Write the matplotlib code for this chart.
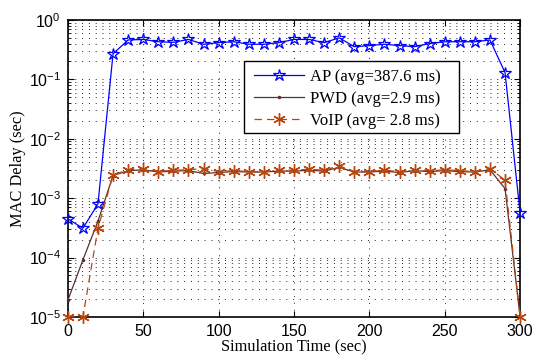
import numpy as np
import matplotlib
matplotlib.use("Agg")
import matplotlib.pyplot as plt
from matplotlib.ticker import LogLocator, NullFormatter, FixedLocator
from matplotlib.patches import Rectangle

time_s = list(range(0, 301, 10))

ap_delay = [4.5e-4, 3.1e-4, 8.0e-4, 0.27, 0.46, 0.47, 0.43, 0.42, 0.47, 0.39,
            0.415, 0.43, 0.39, 0.39, 0.415, 0.47, 0.47, 0.415, 0.50, 0.355,
            0.37, 0.39, 0.37, 0.355, 0.40, 0.43, 0.43, 0.43, 0.46, 0.13, 5.6e-4]

pwd_delay = [1.9e-5, 9.1e-5, 4.1e-4, 2.4e-3, 2.9e-3, 3.0e-3, 2.75e-3, 2.85e-3, 2.9e-3, 2.6e-3,
             2.7e-3, 2.8e-3, 2.75e-3, 2.75e-3, 2.85e-3, 2.85e-3, 2.95e-3, 2.85e-3, 3.3e-3, 2.75e-3,
             2.75e-3, 2.85e-3, 2.7e-3, 2.9e-3, 2.8e-3, 2.9e-3, 2.8e-3, 2.75e-3, 3.0e-3, 1.45e-3, 1.0e-5]

voip_delay = [1.0e-5, 1.0e-5, 3.1e-4, 2.45e-3, 3.0e-3, 3.15e-3, 2.8e-3, 2.95e-3, 3.0e-3, 3.15e-3,
              2.8e-3, 2.9e-3, 2.8e-3, 2.8e-3, 2.95e-3, 2.95e-3, 3.07e-3, 2.95e-3, 3.5e-3, 2.8e-3,
              2.8e-3, 2.95e-3, 2.8e-3, 3.0e-3, 2.9e-3, 3.0e-3, 2.9e-3, 2.8e-3, 3.15e-3, 2.0e-3, 1.0e-5]

labels = ["AP (avg=387.6 ms)", "PWD (avg=2.9 ms)", "VoIP (avg= 2.8 ms)"]
x_ticks = [0, 50, 100, 150, 200, 250, 300]

serif = ["Liberation Serif", "DejaVu Serif"]
sans = ["Liberation Sans", "DejaVu Sans"]

fig = plt.figure(figsize=(5.34, 3.63), dpi=100)
ax = fig.add_axes([0.127, 0.127, 0.847, 0.818])

asterisk = (6, 2, 0)
ax.plot(time_s, ap_delay, color="#0000ff", lw=0.9, marker="*", ms=9,
        mfc="none", mec="#0000ff", mew=0.9, label=labels[0], clip_on=False, zorder=3)
ax.plot(time_s, pwd_delay, color="#5c3030", lw=0.9, marker=".", ms=3,
        label=labels[1], clip_on=False, zorder=4)
ax.plot(time_s, voip_delay, color="#b8470f", lw=0.9, ls=(0, (6, 4)), marker=asterisk, ms=9,
        mec="#b8470f", mew=1.0, label=labels[2], clip_on=False, zorder=5)

ax.set_yscale("log")
ax.set_xlim(0, 300)
ax.set_ylim(1e-5, 1)
ax.xaxis.set_major_locator(FixedLocator(x_ticks))
ax.yaxis.set_major_locator(LogLocator(base=10, numticks=10))
ax.yaxis.set_minor_locator(LogLocator(base=10, subs=np.arange(2, 10), numticks=20))
ax.yaxis.set_minor_formatter(NullFormatter())

ax.grid(True, which="major", axis="both", color="#222222", ls=(0, (1, 6)), lw=0.7)
ax.grid(True, which="minor", axis="y", color="#222222", ls=(0, (1, 6)), lw=0.7)

ax.tick_params(which="both", direction="in", top=True, right=True)
ax.tick_params(which="major", length=4, width=0.8, labelsize=11.5, pad=5)
ax.tick_params(which="minor", length=2, width=0.6)
for lab in ax.get_xticklabels() + ax.get_yticklabels():
    lab.set_fontfamily(sans)
for s in ax.spines.values():
    s.set_linewidth(1.2)

ax.set_xlabel("Simulation Time (sec)", fontsize=11.8, family=serif, labelpad=0)
ax.set_ylabel("MAC Delay (sec)", fontsize=11.8, family=serif, labelpad=2)

# legend frame (MATLAB-style wide box)
frame = Rectangle((0.389, 0.619), 0.476, 0.244, transform=ax.transAxes,
                  facecolor="white", edgecolor="black", lw=1.0, zorder=6)
ax.add_patch(frame)
leg = ax.legend(loc="upper left", bbox_to_anchor=(0.411, 0.836), prop={"family": serif, "size": 12},
                frameon=False, handlelength=3.0, handletextpad=0.4, borderpad=0,
                labelspacing=0.36, borderaxespad=0)
leg.set_zorder(7)

fig.savefig("out.png", dpi=100)
